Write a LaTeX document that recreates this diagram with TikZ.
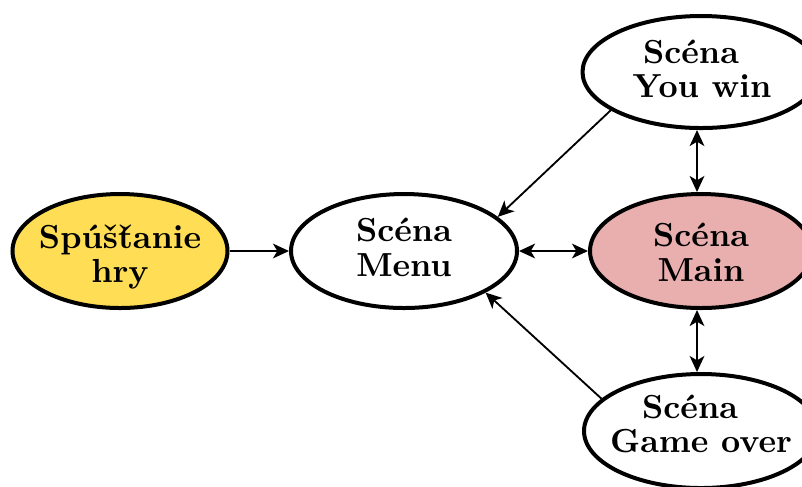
\documentclass[tikz,border=0pt]{standalone}
\usetikzlibrary{shapes.geometric,arrows.meta}
\definecolor{startyellow}{HTML}{FFDD55}
\definecolor{mainpink}{HTML}{E9AFAF}
\newcommand{\tcaron}{{\ooalign{t\cr\hidewidth\char"02C7\hidewidth\cr}}}
\begin{document}
\begin{tikzpicture}[x=0.3pt,y=-0.3pt,
  scene/.style={ellipse, draw, line width=1.2pt, inner sep=0pt, fill=white},
  lbl/.style={font=\bfseries\fontsize{10}{10.3}\selectfont, align=center, inner sep=0pt},
  tip/.tip={Stealth[length=4.8pt,width=4.4pt,inset=1.3pt]},
  arr/.style={-tip, line width=0.65pt},
  biarr/.style={tip-tip, line width=0.65pt},
  thinarr/.style={-tip, line width=0.55pt}
]
\clip (0,0) rectangle (802,486);
\node[scene, fill=startyellow, minimum width=64.5pt, minimum height=34.2pt] (start) at (120,251) {};
\node[scene, minimum width=67.8pt, minimum height=34.2pt] (menu) at (404,251) {};
\node[scene, fill=mainpink, minimum width=66.6pt, minimum height=34.2pt] (main) at (701,251) {};
\node[scene, minimum width=71.1pt, minimum height=33.6pt] (youwin) at (701,72) {};
\node[scene, minimum width=70.2pt, minimum height=34.2pt] (gameover) at (701,431) {};

\node[lbl] (startt) at (120,256.7) {Spúš\tcaron anie\\hry};
\node[lbl] (menut) at (404,247.5) {Scéna\\Menu};
\node[lbl] (maint) at (701,252.2) {Scéna\\Main};
\node[lbl] (youwint) at (702,69) {Scéna\hspace*{6.6pt}\\You win};
\node[lbl] (gameovert) at (701,424) {Scéna\hspace*{6.6pt}\\Game over};

\draw[arr] (start.east) -- (menu.west);
\draw[biarr] (menu.east) -- (main.west);
\draw[biarr] ([xshift=-1.2pt]main.north) -- ([xshift=-1.2pt]youwin.south);
\draw[biarr] ([xshift=-1.2pt]main.south) -- ([xshift=-1.2pt]gameover.north);
\draw[thinarr] (youwin.203) -- (menu.20.6);
\draw[thinarr] (gameover.162) -- (menu.333.4);
\end{tikzpicture}
\end{document}
